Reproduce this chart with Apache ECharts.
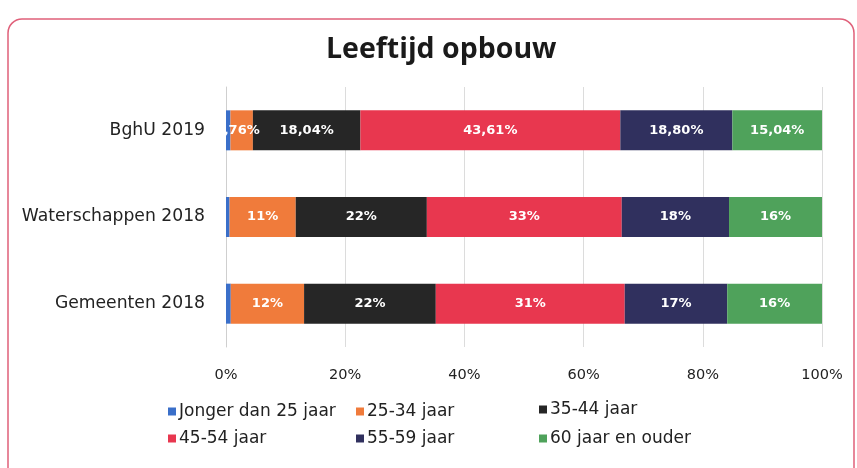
<!DOCTYPE html>
<html><head><meta charset="utf-8">
<script src="https://cdn.jsdelivr.net/npm/echarts@6/dist/echarts.min.js"></script>
<style>html,body{margin:0;padding:0;background:#fff}#c{width:857px;height:468px}</style>
</head><body><div id="c"></div>
<script>
const categories = ['Gemeenten 2018', 'Waterschappen 2018', 'BghU 2019'];
const seriesNames = ['Jonger dan 25 jaar', '25-34 jaar', '35-44 jaar', '45-54 jaar', '55-59 jaar', '60 jaar en ouder'];
const jonger = [0.8, 0.6, 0.75];
const j25_34 = [12.3, 11.1, 3.76];
const j35_44 = [22.1, 22.0, 18.04];
const j45_54 = [31.7, 32.7, 43.61];
const j55_59 = [17.2, 18.0, 18.80];
const j60 = [15.9, 15.6, 15.04];
const labelsJonger = ['', '', ''];
const labels25_34 = ['12%', '11%', ',76%'];
const labels35_44 = ['22%', '22%', '18,04%'];
const labels45_54 = ['31%', '33%', '43,61%'];
const labels55_59 = ['17%', '18%', '18,80%'];
const labels60 = ['16%', '16%', '15,04%'];
const xTicks = [0, 20, 40, 60, 80, 100];

const colors = ['#3a6fc9', '#f07b3b', '#262626', '#e8374f', '#30305e', '#4fa25b'];
const values = [jonger, j25_34, j35_44, j45_54, j55_59, j60];
const labels = [labelsJonger, labels25_34, labels35_44, labels45_54, labels55_59, labels60];

const chart = echarts.init(document.getElementById('c'));
const font = "'DejaVu Sans', sans-serif";
const legendText = { fontSize: 17, color: '#222', fontFamily: font, padding: [0, 0, 0, -2] };
chart.setOption({
  animation: false,
  textStyle: { fontFamily: font },
  graphic: [{
    type: 'rect', shape: { x: 8, y: 19, width: 846, height: 470, r: 14 },
    style: { fill: 'none', stroke: '#e0607a', lineWidth: 1.5 }, z: -10
  }],
  title: {
    text: 'Leeftijd opbouw', left: 321, top: 30,
    textStyle: { fontSize: 28.5, fontWeight: 'bold', color: '#1a1a1a', fontFamily: "'Open Sans', sans-serif" }
  },
  legend: [
    { data: [seriesNames[0], seriesNames[3]], orient: 'vertical', left: 163, top: 398, itemGap: 10,
      itemWidth: 8, itemHeight: 8, icon: 'rect', textStyle: legendText },
    { data: [seriesNames[1], seriesNames[4]], orient: 'vertical', left: 351, top: 398, itemGap: 10,
      itemWidth: 8, itemHeight: 8, icon: 'rect', textStyle: legendText },
    { data: [seriesNames[2], seriesNames[5]], orient: 'vertical', left: 534, top: 396, itemGap: 12,
      itemWidth: 8, itemHeight: 8, icon: 'rect', textStyle: legendText }
  ],
  grid: { left: 226, right: 35, top: 87, bottom: 121 },
  xAxis: {
    type: 'value', min: 0, max: 100, interval: 20,
    axisLabel: { formatter: v => xTicks.includes(v) ? v + '%' : '', fontSize: 14.5, color: '#222', margin: 21 },
    splitLine: { lineStyle: { color: '#dcdcdc' } },
    axisLine: { show: false }, axisTick: { show: false }
  },
  yAxis: {
    type: 'category', data: categories,
    axisLabel: { fontSize: 17.2, color: '#222', margin: 21 },
    axisLine: { show: true, lineStyle: { color: '#cfcfcf' } }, axisTick: { show: false }
  },
  series: seriesNames.map((n, i) => ({
    name: n, type: 'bar', stack: 'total', barWidth: 40,
    itemStyle: { color: colors[i] },
    data: values[i],
    label: {
      show: true, position: 'inside', color: '#fff', fontSize: 13, fontWeight: 'bold',
      formatter: p => labels[i][p.dataIndex]
    }
  }))
});
</script></body></html>
